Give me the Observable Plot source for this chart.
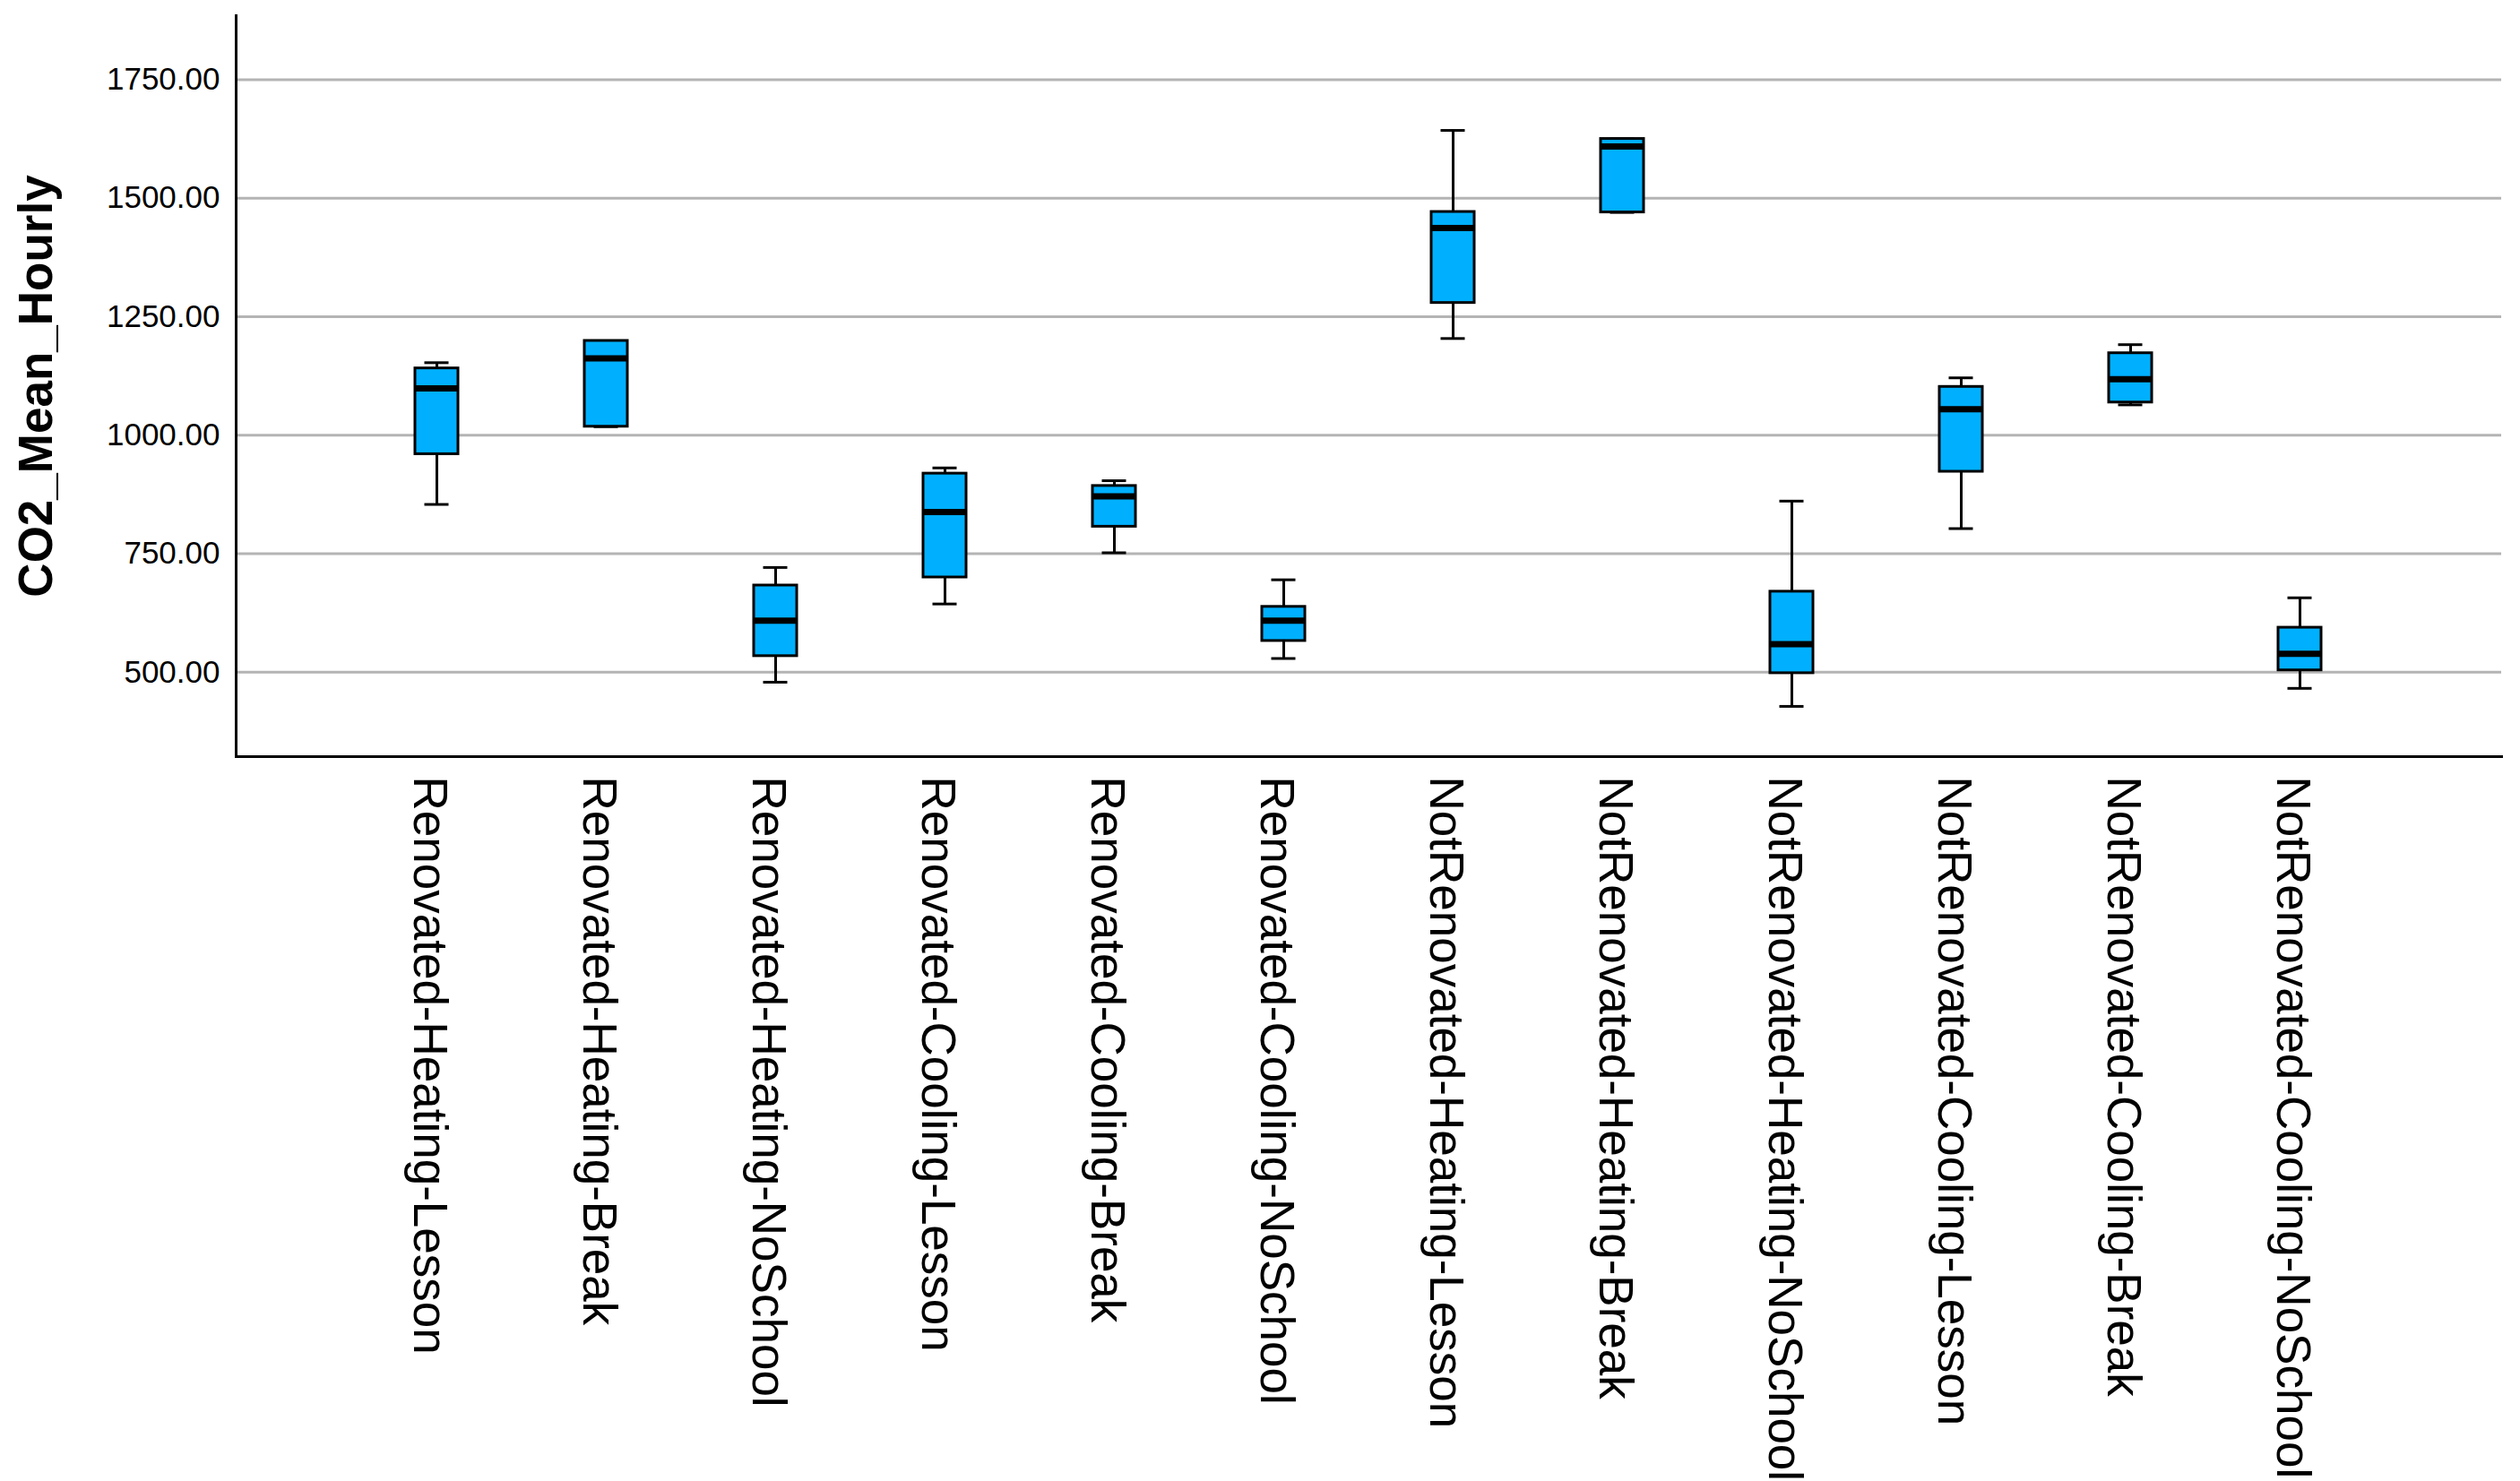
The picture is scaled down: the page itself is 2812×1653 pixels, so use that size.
<!DOCTYPE html>
<html>
<head>
<meta charset="utf-8">
<script src="https://cdn.jsdelivr.net/npm/d3@7"></script>
<script src="https://cdn.jsdelivr.net/npm/@observablehq/plot@0.6"></script>
<style>
  html, body { margin: 0; padding: 0; background: #ffffff; }
  #chart svg { display: block; }
</style>
</head>
<body>
<div id="chart"></div>
<script>
const categories = [
  "Renovated-Heating-Lesson",
  "Renovated-Heating-Break",
  "Renovated-Heating-NoSchool",
  "Renovated-Cooling-Lesson",
  "Renovated-Cooling-Break",
  "Renovated-Cooling-NoSchool",
  "NotRenovated-Heating-Lesson",
  "NotRenovated-Heating-Break",
  "NotRenovated-Heating-NoSchool",
  "NotRenovated-Cooling-Lesson",
  "NotRenovated-Cooling-Break",
  "NotRenovated-Cooling-NoSchool"
];
const mins    = [854, 1018, 479, 644, 752, 529, 1204, 1470, 428,  803, 1064, 466];
const q1s     = [960, 1018, 534, 700, 807, 566, 1279, 1470, 498,  923, 1069, 504];
const medians = [1099, 1162, 609, 838, 871, 609, 1437, 1609, 559, 1055, 1118, 539];
const q3s     = [1141, 1199, 683, 919, 893, 638, 1471, 1625, 670, 1102, 1173, 594];
const maxs    = [1153, 1199, 721, 931, 904, 695, 1643, 1625, 861, 1121, 1191, 657];
const yTicks  = [500, 750, 1000, 1250, 1500, 1750];
const yDomain = [322, 1885];
const yLabel  = "CO2_Mean_Hourly";

const data = categories.map((c, i) => ({
  group: c, min: mins[i], q1: q1s[i], median: medians[i], q3: q3s[i], max: maxs[i]
}));

const font = "'Liberation Sans', Arial, sans-serif";

const chart = Plot.plot({
  width: 2812,
  height: 1653,
  marginLeft: 263,
  marginRight: 21,
  marginTop: 17,
  marginBottom: 809,
  style: { fontFamily: font, background: "#ffffff", color: "#000" },
  x: { type: "band", domain: categories, paddingInner: 0.745, paddingOuter: 1.05 },
  y: { domain: yDomain },
  marks: [
    Plot.ruleY(yTicks, { stroke: "#b4b4b4", strokeWidth: 3 }),
    Plot.ruleX(data, { x: "group", y1: "min", y2: "max", stroke: "#000", strokeWidth: 3 }),
    Plot.tickY(data, { x: "group", y: "min", stroke: "#000", strokeWidth: 3, insetLeft: 10.5, insetRight: 10.5 }),
    Plot.tickY(data, { x: "group", y: "max", stroke: "#000", strokeWidth: 3, insetLeft: 10.5, insetRight: 10.5 }),
    Plot.barY(data, { x: "group", y1: "q1", y2: "q3", fill: "#00b0ff", stroke: "#000", strokeWidth: 3 }),
    Plot.tickY(data, { x: "group", y: "median", stroke: "#000", strokeWidth: 7 }),
    Plot.frame({ anchor: "left", stroke: "#000", strokeWidth: 3 }),
    Plot.frame({ anchor: "bottom", stroke: "#000", strokeWidth: 3 }),
    Plot.axisY({
      ticks: yTicks, tickFormat: d3.format(".2f"), tickSize: 0, tickPadding: 18,
      fontSize: 35, label: null
    }),
    Plot.axisY({
      ticks: [], tickSize: 0, label: yLabel, labelAnchor: "center", labelArrow: "none",
      labelOffset: 243, fontSize: 53, fontWeight: "bold"
    }),
    Plot.axisX({
      tickRotate: 90, tickSize: 0, tickPadding: 22, fontSize: 53, label: null, dx: -9
    })
  ]
});
document.getElementById("chart").appendChild(chart);
</script>
</body>
</html>
